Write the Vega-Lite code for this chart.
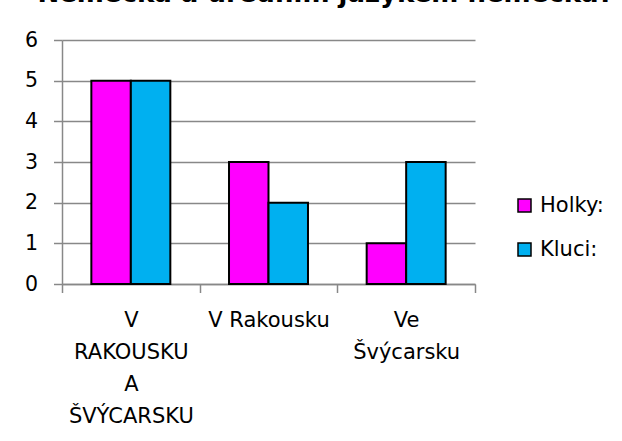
{
  "$schema": "https://vega.github.io/schema/vega-lite/v6.json",
  "width": 413,
  "height": 244,
  "autosize": {"type": "none"},
  "padding": {"left": 62, "top": 40, "right": 147, "bottom": 157},
  "background": "white",
  "title": {
    "text": "Německá a úředním jazykem německá?",
    "font": "DejaVu Sans",
    "fontSize": 26,
    "fontWeight": "bold",
    "color": "black",
    "anchor": "middle",
    "dx": 57,
    "baseline": "alphabetic",
    "offset": 2
  },
  "data": {
    "values": [
      {"misto": "V RAKOUSKU A ŠVÝCARSKU", "skupina": "Holky:", "pocet": 5},
      {"misto": "V RAKOUSKU A ŠVÝCARSKU", "skupina": "Kluci:", "pocet": 5},
      {"misto": "V Rakousku", "skupina": "Holky:", "pocet": 3},
      {"misto": "V Rakousku", "skupina": "Kluci:", "pocet": 2},
      {"misto": "Ve Švýcarsku", "skupina": "Holky:", "pocet": 1},
      {"misto": "Ve Švýcarsku", "skupina": "Kluci:", "pocet": 3}
    ]
  },
  "mark": {"type": "bar", "stroke": "black", "strokeWidth": 2},
  "encoding": {
    "x": {
      "field": "misto",
      "type": "nominal",
      "sort": null,
      "scale": {"paddingInner": 0, "paddingOuter": 0},
      "axis": {
        "title": null,
        "labelAngle": 0,
        "tickBand": "extent",
        "labelExpr": "isValid(datum.value) ? (datum.value == 'V Rakousku' ? datum.value : split(datum.value, ' ')) : ''",
        "labelLineHeight": 32,
        "labelBaseline": "top",
        "labelPadding": 17,
        "labelFont": "DejaVu Sans",
        "labelFontSize": 21,
        "labelColor": "black",
        "domainColor": "#888888",
        "domainWidth": 1.5,
        "tickColor": "#888888",
        "tickWidth": 1.5,
        "tickSize": 8.5,
        "grid": false
      }
    },
    "xOffset": {"field": "skupina", "sort": null, "scale": {"paddingInner": 0, "paddingOuter": 0.743}},
    "y": {
      "field": "pocet",
      "type": "quantitative",
      "scale": {"domain": [0, 6]},
      "axis": {
        "title": null,
        "values": [0, 1, 2, 3, 4, 5, 6],
        "grid": true,
        "gridColor": "#888888",
        "gridWidth": 1.5,
        "domainColor": "#888888",
        "domainWidth": 1.5,
        "tickColor": "#888888",
        "tickWidth": 1.5,
        "tickSize": 8.5,
        "labelFont": "DejaVu Sans",
        "labelFontSize": 20.5,
        "labelColor": "black",
        "labelPadding": 16
      }
    },
    "color": {
      "field": "skupina",
      "type": "nominal",
      "sort": null,
      "scale": {"domain": ["Holky:", "Kluci:"], "range": ["#FF00FF", "#00B0F0"]},
      "legend": {
        "title": null,
        "orient": "none",
        "legendX": 452,
        "legendY": 155,
        "symbolType": "square",
        "symbolSize": 169,
        "symbolStrokeColor": "black",
        "symbolStrokeWidth": 1.5,
        "labelFont": "DejaVu Sans",
        "labelFontSize": 21,
        "labelColor": "black",
        "rowPadding": 22,
        "labelOffset": 5
      }
    }
  },
  "config": {"view": {"stroke": null}}
}
